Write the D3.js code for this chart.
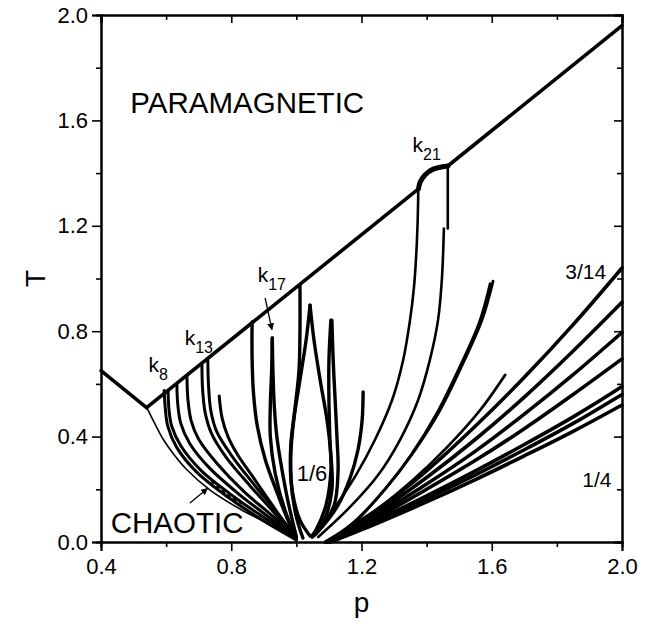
<!DOCTYPE html>
<html>
<head>
<meta charset="utf-8">
<script src="https://cdn.jsdelivr.net/npm/d3@7"></script>
<style>
  body { margin: 0; background: #fff; }
  svg { display: block; font-family: "Liberation Sans", Arial, Helvetica, sans-serif; }
</style>
</head>
<body>
<div id="chart"></div>
<script>
// ticks
const majorX = [0.4, 0.8, 1.2, 1.6, 2.0];
const minorX = [0.6, 1.0, 1.4, 1.8];
const majorY = [0.0, 0.4, 0.8, 1.2, 1.6, 2.0];
const minorY = [0.2, 0.6, 1.0, 1.4, 1.8];

// paramagnetic boundary, [p, T]
const leftEdge = [[0.4, 0.65], [0.54, 0.51]];
const paraLower = [[0.54, 0.51], [1.375, 1.34]];
const k21Bump = [[1.375, 1.34], [1.38, 1.365], [1.395, 1.393], [1.42, 1.415], [1.465, 1.427]];
const paraUpper = [[1.465, 1.427], [2.0, 1.96]];
const k21Drop = [[1.465, 1.427], [1.465, 1.19]];

// chaotic border and the k8..k13 family
const chaoticEdge = [[0.54,0.512],[0.565,0.45],[0.591,0.39],[0.625,0.33],[0.663,0.275],[0.735,0.197],[0.827,0.125],[0.919,0.065],[1.0,0.005]];
const k8a = [[0.594,0.575],[0.598,0.50],[0.605,0.44],[0.632,0.36],[0.694,0.265],[0.796,0.165],[0.90,0.08],[1.0,0.008]];
const k8b = [[0.606,0.57],[0.609,0.50],[0.617,0.44],[0.645,0.365],[0.707,0.272],[0.808,0.172],[0.91,0.085],[1.0,0.01]];
const k10 = [[0.633,0.598],[0.636,0.52],[0.645,0.45],[0.672,0.375],[0.73,0.285],[0.825,0.18],[0.92,0.09],[1.0,0.01]];
const k11 = [[0.664,0.628],[0.667,0.54],[0.677,0.46],[0.70,0.39],[0.755,0.30],[0.84,0.19],[0.93,0.095],[1.0,0.012]];
const k13a = [[0.71,0.675],[0.712,0.58],[0.72,0.49],[0.74,0.41],[0.785,0.32],[0.86,0.21],[0.94,0.10],[1.0,0.012]];
const k13b = [[0.728,0.69],[0.73,0.60],[0.737,0.50],[0.755,0.42],[0.80,0.33],[0.872,0.215],[0.945,0.105],[1.0,0.014]];
const c077 = [[0.763,0.554],[0.772,0.47],[0.79,0.40],[0.82,0.33],[0.865,0.25],[0.915,0.16],[0.96,0.08],[1.0,0.015]];
const c086 = [[0.864,0.835],[0.864,0.70],[0.868,0.57],[0.88,0.44],[0.905,0.31],[0.94,0.19],[0.975,0.08],[1.0,0.015]];

// k17 spike, p = 1 line and the 1/6 lens
const k17L = [[0.926,0.774],[0.924,0.65],[0.92,0.52],[0.92,0.40],[0.935,0.26],[0.965,0.12],[1.0,0.015]];
const k17R = [[0.926,0.774],[0.928,0.65],[0.932,0.52],[0.94,0.40],[0.955,0.28],[0.975,0.15],[1.0,0.02]];
const p100 = [[1.011,0.975],[1.011,0.80],[1.008,0.65],[0.995,0.50],[0.983,0.37],[0.983,0.24],[0.998,0.105],[1.02,0.015]];
const sixthL = [[1.042,0.899],[1.03,0.767],[1.011,0.615],[0.992,0.463],[0.983,0.33],[0.987,0.197],[1.011,0.083],[1.042,0.023]];
const sixthR = [[1.042,0.899],[1.054,0.767],[1.073,0.615],[1.094,0.463],[1.106,0.33],[1.109,0.197],[1.085,0.083],[1.048,0.023]];
const s111L = [[1.106,0.842],[1.10,0.69],[1.10,0.54],[1.103,0.387],[1.106,0.27],[1.091,0.14],[1.06,0.045],[1.048,0.023]];
const s111R = [[1.109,0.842],[1.113,0.69],[1.119,0.54],[1.125,0.387],[1.128,0.27],[1.116,0.14],[1.07,0.045],[1.05,0.02]];
const c120 = [[1.205,0.569],[1.202,0.463],[1.189,0.349],[1.165,0.243],[1.128,0.14],[1.079,0.057],[1.048,0.019]];

// k21 branches and the curves ending near p = 1.6
const k21L = [[1.374,1.34],[1.374,1.30],[1.370,1.136],[1.361,0.965],[1.349,0.842],[1.328,0.691],[1.294,0.539],[1.241,0.387],[1.183,0.254],[1.119,0.133],[1.057,0.027]];
const k21R = [[1.453,1.19],[1.447,1.00],[1.435,0.842],[1.41,0.691],[1.374,0.539],[1.318,0.387],[1.251,0.254],[1.165,0.133],[1.067,0.019]];
const c160a = [[1.604,0.99],[1.57,0.842],[1.512,0.679],[1.441,0.50],[1.358,0.338],[1.278,0.209],[1.186,0.083],[1.119,0.019]];
const c160b = [[1.595,0.98],[1.561,0.83],[1.503,0.668],[1.432,0.49],[1.35,0.326],[1.27,0.197],[1.177,0.076],[1.11,0.015]];
const c164 = [[1.641,0.634],[1.564,0.50],[1.463,0.36],[1.358,0.235],[1.235,0.11],[1.134,0.019]];

// fan from 3/14 down to 1/4
const fan1 = [[1.09,0.0],[1.25,0.125],[1.4,0.27],[1.55,0.44],[1.7,0.625],[1.85,0.825],[2.0,1.04]];
const fan2 = [[1.09,0.0],[1.25,0.115],[1.4,0.245],[1.55,0.39],[1.7,0.55],[1.85,0.725],[2.0,0.91]];
const fan3 = [[1.095,0.0],[1.25,0.105],[1.4,0.22],[1.55,0.345],[1.7,0.485],[1.85,0.635],[2.0,0.795]];
const fan4 = [[1.095,0.0],[1.25,0.095],[1.4,0.2],[1.55,0.31],[1.7,0.43],[1.85,0.56],[2.0,0.695]];
const fan5 = [[1.10,0.0],[1.25,0.085],[1.4,0.175],[1.55,0.27],[1.7,0.37],[1.85,0.475],[2.0,0.59]];
const fan6 = [[1.10,0.0],[1.25,0.08],[1.4,0.165],[1.55,0.255],[1.7,0.35],[1.85,0.45],[2.0,0.56]];
const fan7 = [[1.105,0.0],[1.25,0.072],[1.4,0.152],[1.55,0.237],[1.7,0.327],[1.85,0.42],[2.0,0.52]];

const chaoticSpecks = [[0.74,0.228],[0.77,0.197],[0.80,0.17],[0.83,0.148]];

// annotations
const arrows = [[[0.904,0.926],[0.925,0.806]], [[0.673,0.148],[0.727,0.203]]];
const kLabels = [["8",0.546,0.646], ["13",0.657,0.749], ["17",0.881,0.988], ["21",1.357,1.48]];
const plainLabels = [["PARAMAGNETIC",0.49,1.628,29.5], ["CHAOTIC",0.43,0.034,29.5],
                     ["1/6",1.001,0.232,22], ["3/14",1.826,0.997,21], ["1/4",1.878,0.209,21]];

const W = 655, H = 625;
const margin = {top: 15, right: 33, bottom: 83, left: 101};
const width = W - margin.left - margin.right,
      height = H - margin.top - margin.bottom;

const svg = d3.select("#chart").append("svg")
    .attr("width", W)
    .attr("height", H);

const g = svg.append("g")
    .attr("transform", "translate(" + margin.left + "," + margin.top + ")");

const x = d3.scaleLinear().domain([0.4, 2.0]).range([0, width]);
const y = d3.scaleLinear().domain([0, 2.0]).range([height, 0]);

const line = d3.line()
    .x(function(d) { return x(d[0]); })
    .y(function(d) { return y(d[1]); })
    .curve(d3.curveCatmullRom.alpha(0.5));

const plot = g.append("g");

function draw(list, w, dash) {
    list.forEach(function(pts) {
        plot.append("path")
            .attr("d", line(pts))
            .attr("fill", "none")
            .attr("stroke", "#000")
            .attr("stroke-width", w)
            .attr("stroke-linecap", "round")
            .attr("stroke-linejoin", "round")
            .attr("stroke-dasharray", dash || null);
    });
}

draw([chaoticEdge], 1.6);
draw([chaoticSpecks], 2, "2,5");
draw([k8a, k8b, k10, k11, k13a, k13b, c077], 3);
draw([c086, k17L, k17R, p100, sixthL, sixthR, s111L, s111R, c120], 3.4);
draw([k21L, k21R, k21Drop], 2.6);
draw([c160a, c160b, c164], 2.8);
draw([fan1, fan2, fan3, fan4, fan5, fan6, fan7], 3.6);
draw([leftEdge, paraLower, paraUpper], 3.6);
draw([k21Bump], 5);

// arrows
svg.append("defs").append("marker")
    .attr("id", "head")
    .attr("viewBox", "0 0 10 10")
    .attr("refX", 9).attr("refY", 5)
    .attr("markerWidth", 7).attr("markerHeight", 7)
    .attr("markerUnits", "userSpaceOnUse")
    .attr("orient", "auto")
    .append("path").attr("d", "M0,0L10,5L0,10z").attr("fill", "#000");

arrows.forEach(function(a) {
    g.append("line")
        .attr("x1", x(a[0][0])).attr("y1", y(a[0][1]))
        .attr("x2", x(a[1][0])).attr("y2", y(a[1][1]))
        .attr("stroke", "#000").attr("stroke-width", 1.3)
        .attr("marker-end", "url(#head)");
});

// labels
plainLabels.forEach(function(l) {
    g.append("text")
        .attr("x", x(l[1])).attr("y", y(l[2]))
        .attr("font-size", l[3])
        .text(l[0]);
});

kLabels.forEach(function(l) {
    const t = g.append("text")
        .attr("x", x(l[1])).attr("y", y(l[2]))
        .attr("font-size", 21);
    t.append("tspan").text("k");
    t.append("tspan").attr("dy", 8).attr("font-size", 16).text(l[0]);
});

// axes
const fmt = d3.format(".1f");

function styleAxis(sel) {
    sel.select(".domain").attr("stroke-width", 2);
    sel.selectAll(".tick line").attr("stroke-width", 1.6);
    sel.selectAll(".tick text").attr("font-size", 22)
        .attr("font-family", "'Liberation Sans', Arial, sans-serif").attr("fill", "#000");
}

g.append("g").attr("transform", "translate(0," + height + ")")
    .call(d3.axisBottom(x).tickValues(majorX).tickFormat(fmt).tickSize(9).tickPadding(7))
    .call(styleAxis);
g.append("g").attr("transform", "translate(0," + height + ")")
    .call(d3.axisBottom(x).tickValues(minorX).tickFormat("").tickSize(5))
    .call(styleAxis);

g.append("g")
    .call(d3.axisLeft(y).tickValues(majorY).tickFormat(fmt).tickSize(9).tickPadding(4))
    .call(styleAxis);
g.append("g")
    .call(d3.axisLeft(y).tickValues(minorY).tickFormat("").tickSize(5))
    .call(styleAxis);

g.append("g")
    .call(d3.axisTop(x).tickValues(majorX).tickFormat("").tickSize(-8))
    .call(styleAxis);
g.append("g")
    .call(d3.axisTop(x).tickValues(minorX).tickFormat("").tickSize(-5))
    .call(styleAxis);

g.append("g").attr("transform", "translate(" + width + ",0)")
    .call(d3.axisRight(y).tickValues(majorY).tickFormat("").tickSize(-8))
    .call(styleAxis);
g.append("g").attr("transform", "translate(" + width + ",0)")
    .call(d3.axisRight(y).tickValues(minorY).tickFormat("").tickSize(-5))
    .call(styleAxis);

// axis titles
svg.append("text")
    .attr("x", margin.left + width / 2).attr("y", 612)
    .attr("text-anchor", "middle").attr("font-size", 28)
    .text("p");

svg.append("text")
    .attr("transform", "translate(45," + (margin.top + height / 2) + ") rotate(-90)")
    .attr("text-anchor", "middle").attr("font-size", 28)
    .text("T");
</script>
</body>
</html>
